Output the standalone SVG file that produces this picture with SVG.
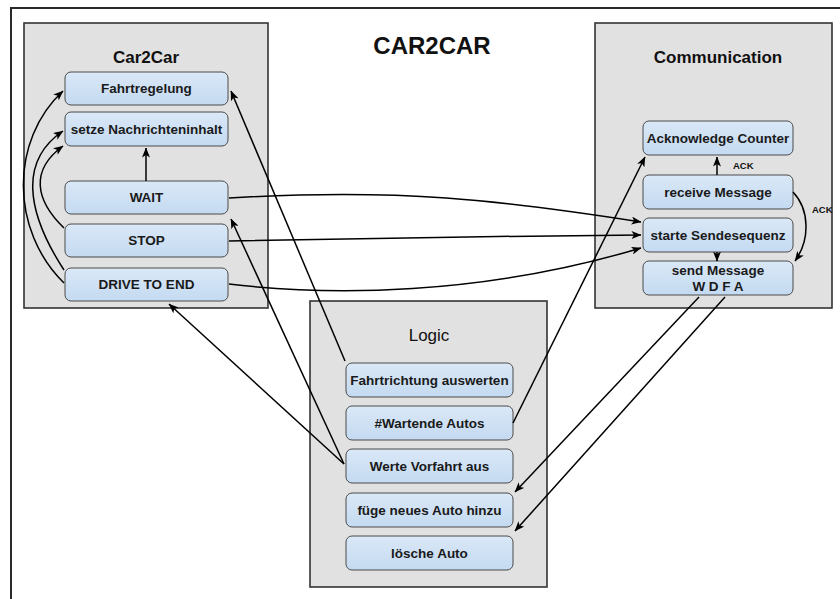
<svg xmlns="http://www.w3.org/2000/svg" width="840" height="599" viewBox="0 0 840 599">
<defs>
<linearGradient id="nodeGrad" x1="0" y1="0" x2="0" y2="1">
<stop offset="0" stop-color="#dae8f7"/>
<stop offset="1" stop-color="#c4daf1"/>
</linearGradient>
<marker id="arr" viewBox="0 0 10 8" refX="9.5" refY="4" markerWidth="10" markerHeight="8" markerUnits="userSpaceOnUse" orient="auto">
<path d="M0,0 L10,4 L0,8 L2.5,4 z" fill="#000"/>
</marker>
<style>
.frame{fill:none;stroke:#2a2a2a;stroke-width:2}
.cont{fill:#e1e1e1;stroke:#333;stroke-width:1.6}
.node{fill:url(#nodeGrad);stroke:#4a4a4a;stroke-width:1}
.nt{font-family:"Liberation Sans",Arial,sans-serif;font-weight:bold;font-size:13.5px;fill:#1a1a1a;text-anchor:middle}
.ct{font-family:"Liberation Sans",Arial,sans-serif;font-weight:bold;font-size:17px;fill:#111;text-anchor:middle}
.lt{font-family:"Liberation Sans",Arial,sans-serif;font-size:17px;fill:#111;text-anchor:middle}
.tt{font-family:"Liberation Sans",Arial,sans-serif;font-weight:bold;font-size:24px;fill:#111;text-anchor:middle}
.al{font-family:"Liberation Sans",Arial,sans-serif;font-weight:bold;font-size:9.5px;fill:#111}
.c{fill:none;stroke:#000;stroke-width:1.5;marker-end:url(#arr)}
</style>
</defs>
<rect class="frame" x="11" y="8" width="900" height="700"/>
<text class="tt" x="432" y="54">CAR2CAR</text>

<g id="car2car">
<rect class="cont" x="24" y="23" width="244" height="285"/>
<text class="ct" x="146" y="63">Car2Car</text>
</g>
<g id="communication">
<rect class="cont" x="595" y="23" width="237" height="285"/>
<text class="ct" x="718" y="63">Communication</text>
</g>
<g id="logic">
<rect class="cont" x="310" y="301" width="237" height="286"/>
<text class="lt" x="429" y="341">Logic</text>
</g>

<g id="fahrtregelung"><rect class="node" x="65" y="72" width="163" height="33" rx="6"/><text class="nt" x="146.5" y="93">Fahrtregelung</text></g>
<g id="setze"><rect class="node" x="65" y="112" width="163" height="34" rx="6"/><text class="nt" x="146.5" y="134">setze Nachrichteninhalt</text></g>
<g id="wait"><rect class="node" x="65" y="181" width="163" height="33" rx="6"/><text class="nt" x="146.5" y="202">WAIT</text></g>
<g id="stop"><rect class="node" x="65" y="224" width="163" height="33" rx="6"/><text class="nt" x="146.5" y="245">STOP</text></g>
<g id="drive"><rect class="node" x="65" y="268" width="163" height="33" rx="6"/><text class="nt" x="146.5" y="289">DRIVE TO END</text></g>

<g id="ackcounter"><rect class="node" x="643" y="121" width="150" height="34" rx="6"/><text class="nt" x="718" y="143">Acknowledge Counter</text></g>
<g id="receive"><rect class="node" x="643" y="175" width="150" height="34" rx="6"/><text class="nt" x="718" y="197">receive Message</text></g>
<g id="starte"><rect class="node" x="643" y="218" width="150" height="34" rx="6"/><text class="nt" x="718" y="240">starte Sendesequenz</text></g>
<g id="send"><rect class="node" x="643" y="261" width="150" height="34" rx="6"/><text class="nt" x="718" y="275">send Message</text><text class="nt" x="718" y="291">W D F A</text></g>

<g id="fahrtrichtung"><rect class="node" x="346" y="363" width="167" height="34" rx="6"/><text class="nt" x="429.5" y="385">Fahrtrichtung auswerten</text></g>
<g id="wartende"><rect class="node" x="346" y="406" width="167" height="34" rx="6"/><text class="nt" x="429.5" y="428">#Wartende Autos</text></g>
<g id="werte"><rect class="node" x="346" y="449" width="167" height="34" rx="6"/><text class="nt" x="429.5" y="471">Werte Vorfahrt aus</text></g>
<g id="fuege"><rect class="node" x="346" y="493" width="167" height="34" rx="6"/><text class="nt" x="429.5" y="515">füge neues Auto hinzu</text></g>
<g id="loesche"><rect class="node" x="346" y="536" width="167" height="34" rx="6"/><text class="nt" x="429.5" y="558">lösche Auto</text></g>

<g id="connectors">
<path class="c" d="M146,181 L146,148"/>
<path class="c" d="M64,283 C10,230 10,140 63,91"/>
<path class="c" d="M64,270 C25,210 20,160 63,131"/>
<path class="c" d="M64,228 C35,200 30,170 63,146"/>
<path class="c" d="M229,198 C400,188 500,200 641,222"/>
<path class="c" d="M229,241 C400,238 500,236 641,235"/>
<path class="c" d="M229,284 C330,296 480,296 641,248"/>
<path class="c" d="M345,361 L231,91"/>
<path class="c" d="M344,464 L231,219"/>
<path class="c" d="M344,464 L169,304"/>
<path class="c" d="M513,423 L645,157"/>
<path class="c" d="M699,297 L515,492"/>
<path class="c" d="M725,297 L515,531"/>
<path class="c" d="M717,175 L717,157"/>
<path class="c" d="M793,192 C810,210 810,240 795,261"/>
<path class="c" d="M717,252 L717,261"/>
<text class="al" x="733" y="169">ACK</text>
<text class="al" x="812" y="213">ACK</text>
</g>
</svg>
